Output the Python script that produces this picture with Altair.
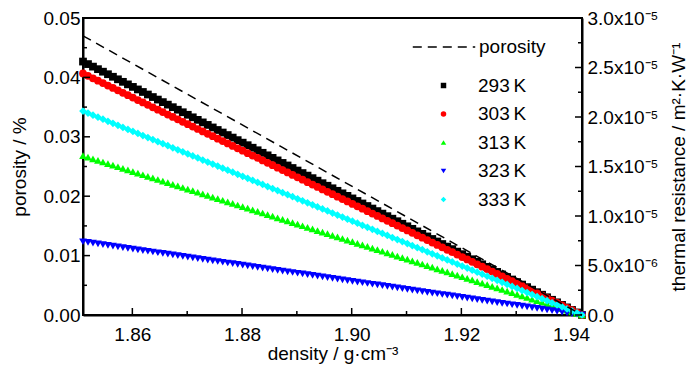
import altair as alt
import pandas as pd

# ---------------- data ----------------
density = [
    1.942, 1.94109, 1.94018, 1.93927, 1.93836, 1.93745, 1.93654, 1.93563, 1.93472, 1.93381,
    1.9329, 1.93199, 1.93108, 1.93017, 1.92926, 1.92835, 1.92744, 1.92653, 1.92562, 1.92471,
    1.9238, 1.92289, 1.92198, 1.92107, 1.92016, 1.91925, 1.91834, 1.91743, 1.91652, 1.91561,
    1.9147, 1.91379, 1.91288, 1.91197, 1.91106, 1.91015, 1.90924, 1.90833, 1.90742, 1.90651,
    1.9056, 1.90469, 1.90378, 1.90287, 1.90196, 1.90105, 1.90014, 1.89923, 1.89832, 1.89741,
    1.8965, 1.89559, 1.89468, 1.89377, 1.89286, 1.89195, 1.89104, 1.89013, 1.88922, 1.88831,
    1.8874, 1.88649, 1.88558, 1.88467, 1.88376, 1.88285, 1.88194, 1.88103, 1.88012, 1.87921,
    1.8783, 1.87739, 1.87648, 1.87557, 1.87466, 1.87375, 1.87284, 1.87193, 1.87102, 1.87011,
    1.8692, 1.86829, 1.86738, 1.86647, 1.86556, 1.86465, 1.86374, 1.86283, 1.86192, 1.86101,
    1.8601, 1.85919, 1.85828, 1.85737, 1.85646, 1.85555, 1.85464, 1.85373, 1.85282, 1.85191,
    1.851,
]

# thermal resistance, in units of 1e-5 m^2·K·W^-1
r293 = [
    0, 0.0256, 0.0512, 0.0768, 0.1024, 0.128, 0.1536, 0.1792, 0.2048, 0.2304,
    0.256, 0.2816, 0.3072, 0.3328, 0.3584, 0.384, 0.4096, 0.4352, 0.4608, 0.4864,
    0.512, 0.5376, 0.5632, 0.5888, 0.6144, 0.64, 0.6656, 0.6912, 0.7168, 0.7424,
    0.768, 0.7936, 0.8192, 0.8448, 0.8704, 0.896, 0.9216, 0.9472, 0.9728, 0.9984,
    1.024, 1.0496, 1.0752, 1.1008, 1.1264, 1.152, 1.1776, 1.2032, 1.2288, 1.2544,
    1.28, 1.3056, 1.3312, 1.3568, 1.3824, 1.408, 1.4336, 1.4592, 1.4848, 1.5104,
    1.536, 1.5616, 1.5872, 1.6128, 1.6384, 1.664, 1.6896, 1.7152, 1.7408, 1.7664,
    1.792, 1.8176, 1.8432, 1.8688, 1.8944, 1.92, 1.9456, 1.9712, 1.9968, 2.0224,
    2.048, 2.0736, 2.0992, 2.1248, 2.1504, 2.176, 2.2016, 2.2272, 2.2528, 2.2784,
    2.304, 2.3296, 2.3552, 2.3808, 2.4064, 2.432, 2.4576, 2.4832, 2.5088, 2.5344,
    2.56,
]
r303 = [
    0, 0.0244, 0.0488, 0.0732, 0.0976, 0.122, 0.1464, 0.1708, 0.1952, 0.2196,
    0.244, 0.2684, 0.2928, 0.3172, 0.3416, 0.366, 0.3904, 0.4148, 0.4392, 0.4636,
    0.488, 0.5124, 0.5368, 0.5612, 0.5856, 0.61, 0.6344, 0.6588, 0.6832, 0.7076,
    0.732, 0.7564, 0.7808, 0.8052, 0.8296, 0.854, 0.8784, 0.9028, 0.9272, 0.9516,
    0.976, 1.0004, 1.0248, 1.0492, 1.0736, 1.098, 1.1224, 1.1468, 1.1712, 1.1956,
    1.22, 1.2444, 1.2688, 1.2932, 1.3176, 1.342, 1.3664, 1.3908, 1.4152, 1.4396,
    1.464, 1.4884, 1.5128, 1.5372, 1.5616, 1.586, 1.6104, 1.6348, 1.6592, 1.6836,
    1.708, 1.7324, 1.7568, 1.7812, 1.8056, 1.83, 1.8544, 1.8788, 1.9032, 1.9276,
    1.952, 1.9764, 2.0008, 2.0252, 2.0496, 2.074, 2.0984, 2.1228, 2.1472, 2.1716,
    2.196, 2.2204, 2.2448, 2.2692, 2.2936, 2.318, 2.3424, 2.3668, 2.3912, 2.4156,
    2.44,
]
r313 = [
    0, 0.0161, 0.0322, 0.0483, 0.0644, 0.0805, 0.0966, 0.1127, 0.1288, 0.1449,
    0.161, 0.1771, 0.1932, 0.2093, 0.2254, 0.2415, 0.2576, 0.2737, 0.2898, 0.3059,
    0.322, 0.3381, 0.3542, 0.3703, 0.3864, 0.4025, 0.4186, 0.4347, 0.4508, 0.4669,
    0.483, 0.4991, 0.5152, 0.5313, 0.5474, 0.5635, 0.5796, 0.5957, 0.6118, 0.6279,
    0.644, 0.6601, 0.6762, 0.6923, 0.7084, 0.7245, 0.7406, 0.7567, 0.7728, 0.7889,
    0.805, 0.8211, 0.8372, 0.8533, 0.8694, 0.8855, 0.9016, 0.9177, 0.9338, 0.9499,
    0.966, 0.9821, 0.9982, 1.0143, 1.0304, 1.0465, 1.0626, 1.0787, 1.0948, 1.1109,
    1.127, 1.1431, 1.1592, 1.1753, 1.1914, 1.2075, 1.2236, 1.2397, 1.2558, 1.2719,
    1.288, 1.3041, 1.3202, 1.3363, 1.3524, 1.3685, 1.3846, 1.4007, 1.4168, 1.4329,
    1.449, 1.4651, 1.4812, 1.4973, 1.5134, 1.5295, 1.5456, 1.5617, 1.5778, 1.5939,
    1.61,
]
r323 = [
    0, 0.0074, 0.0148, 0.0222, 0.0296, 0.037, 0.0444, 0.0518, 0.0592, 0.0666,
    0.074, 0.0814, 0.0888, 0.0962, 0.1036, 0.111, 0.1184, 0.1258, 0.1332, 0.1406,
    0.148, 0.1554, 0.1628, 0.1702, 0.1776, 0.185, 0.1924, 0.1998, 0.2072, 0.2146,
    0.222, 0.2294, 0.2368, 0.2442, 0.2516, 0.259, 0.2664, 0.2738, 0.2812, 0.2886,
    0.296, 0.3034, 0.3108, 0.3182, 0.3256, 0.333, 0.3404, 0.3478, 0.3552, 0.3626,
    0.37, 0.3774, 0.3848, 0.3922, 0.3996, 0.407, 0.4144, 0.4218, 0.4292, 0.4366,
    0.444, 0.4514, 0.4588, 0.4662, 0.4736, 0.481, 0.4884, 0.4958, 0.5032, 0.5106,
    0.518, 0.5254, 0.5328, 0.5402, 0.5476, 0.555, 0.5624, 0.5698, 0.5772, 0.5846,
    0.592, 0.5994, 0.6068, 0.6142, 0.6216, 0.629, 0.6364, 0.6438, 0.6512, 0.6586,
    0.666, 0.6734, 0.6808, 0.6882, 0.6956, 0.703, 0.7104, 0.7178, 0.7252, 0.7326,
    0.74,
]
r333 = [
    0, 0.0206, 0.0412, 0.0618, 0.0824, 0.103, 0.1236, 0.1442, 0.1648, 0.1854,
    0.206, 0.2266, 0.2472, 0.2678, 0.2884, 0.309, 0.3296, 0.3502, 0.3708, 0.3914,
    0.412, 0.4326, 0.4532, 0.4738, 0.4944, 0.515, 0.5356, 0.5562, 0.5768, 0.5974,
    0.618, 0.6386, 0.6592, 0.6798, 0.7004, 0.721, 0.7416, 0.7622, 0.7828, 0.8034,
    0.824, 0.8446, 0.8652, 0.8858, 0.9064, 0.927, 0.9476, 0.9682, 0.9888, 1.0094,
    1.03, 1.0506, 1.0712, 1.0918, 1.1124, 1.133, 1.1536, 1.1742, 1.1948, 1.2154,
    1.236, 1.2566, 1.2772, 1.2978, 1.3184, 1.339, 1.3596, 1.3802, 1.4008, 1.4214,
    1.442, 1.4626, 1.4832, 1.5038, 1.5244, 1.545, 1.5656, 1.5862, 1.6068, 1.6274,
    1.648, 1.6686, 1.6892, 1.7098, 1.7304, 1.751, 1.7716, 1.7922, 1.8128, 1.8334,
    1.854, 1.8746, 1.8952, 1.9158, 1.9364, 1.957, 1.9776, 1.9982, 2.0188, 2.0394,
    2.06,
]

series_names = ["293\u2009K", "303\u2009K", "313\u2009K", "323\u2009K", "333\u2009K"]
series_colors = ["#000000", "#ff0000", "#00ff00", "#0000ff", "#00ffff"]
series_shapes = ["square", "circle", "triangle-up", "triangle-down", "diamond"]

porosity_density = [1.851, 1.942]
porosity_values = [0.047, 0.0]

x_major = [1.86, 1.88, 1.90, 1.92, 1.94]
x_minor = [1.87, 1.89, 1.91, 1.93]
yl_major = [0.0, 0.01, 0.02, 0.03, 0.04, 0.05]
yl_minor = [0.005, 0.015, 0.025, 0.035, 0.045]
yr_major = [0.0, 5e-6, 1e-5, 1.5e-5, 2e-5, 2.5e-5, 3e-5]
yr_minor = [2.5e-6, 7.5e-6, 1.25e-5, 1.75e-5, 2.25e-5, 2.75e-5]

# ---------------- tables ----------------
series_vals = [r293, r303, r313, r323, r333]
rows = []
for name, vals in zip(series_names, series_vals):
    assert len(vals) == len(density)
    for d, v in zip(density, vals):
        rows.append({"density": d, "R": v * 1e-5, "series": name})
pts_df = pd.DataFrame(rows)
por_df = pd.DataFrame({"density": porosity_density, "porosity": porosity_values,
                       "series": ["porosity"] * 2})

W, H = 499, 297
FONT = "Liberation Sans"
FS = 19
MAJ, MIN = 7, 4

xs = alt.Scale(domain=[1.851, 1.942], nice=False, zero=False)
yls = alt.Scale(domain=[0, 0.05], nice=False)
yrs = alt.Scale(domain=[0, 3e-5], nice=False)

x_axis = alt.Axis(values=x_major, format=".2f", title="density / g·cm⁻³",
                  ticks=False, labelPadding=10, titlePadding=0)
yl_axis = alt.Axis(orient="left", values=yl_major, format=".2f",
                   title="porosity / %", ticks=False, labelPadding=3,
                   titlePadding=14)
lab_expr = ("datum.value == 0 ? '0.0' : (datum.value < 9e-6 ? "
            "format(datum.value * 1e6, '.1f') + 'x10⁻⁶' : "
            "format(datum.value * 1e5, '.1f') + 'x10⁻⁵')")
yr_axis = alt.Axis(orient="right", values=yr_major, labelExpr=lab_expr,
                   title="thermal resistance / m²·K·W⁻¹", ticks=False,
                   labelPadding=5, titlePadding=12, titleAngle=270,
                   titleBaseline="top")

# ---------------- left-axis layer ----------------
line = alt.Chart(por_df).mark_line(color="black", strokeWidth=1.5).encode(
    x=alt.X("density:Q", scale=xs, axis=x_axis),
    y=alt.Y("porosity:Q", scale=yls, axis=yl_axis),
    strokeDash=alt.StrokeDash(
        "series:N",
        scale=alt.Scale(domain=["porosity"], range=[[9, 6]]),
        legend=alt.Legend(orient="none", legendX=329, legendY=-3, title=None,
                          labelFont=FONT, labelFontSize=FS, labelColor="black",
                          symbolSize=3900, symbolStrokeWidth=1.5,
                          symbolStrokeColor="black", labelOffset=3, padding=0),
    ),
)


def xrules(vals, length):
    df = pd.DataFrame({"density": vals})
    return alt.Chart(df).mark_rule(color="black", strokeWidth=1.5).encode(
        x=alt.X("density:Q", scale=xs, axis=x_axis),
        y=alt.value(H), y2=alt.value(H - length))


def yrules(vals, field, scale, axis, length, side):
    df = pd.DataFrame({field: vals})
    if side == "left":
        xa, xb = alt.value(0), alt.value(length)
    else:
        xa, xb = alt.value(W), alt.value(W - length)
    return alt.Chart(df).mark_rule(color="black", strokeWidth=1.5).encode(
        y=alt.Y(f"{field}:Q", scale=scale, axis=axis), x=xa, x2=xb)


left = alt.layer(
    line,
    xrules(x_major, MAJ),
    xrules(x_minor, MIN),
    yrules(yl_major, "porosity", yls, yl_axis, MAJ, "left"),
    yrules(yl_minor, "porosity", yls, yl_axis, MIN, "left"),
)

# ---------------- right-axis layer ----------------
leg = alt.Legend(orient="none", legendX=351, legendY=58, title=None,
                 labelFont=FONT, labelFontSize=FS, labelColor="black",
                 symbolSize=30, symbolStrokeWidth=0, rowPadding=8.5,
                 labelOffset=25, padding=0)

points = alt.Chart(pts_df).mark_point(filled=True, size=60, opacity=1).encode(
    x=alt.X("density:Q", scale=xs, axis=x_axis),
    y=alt.Y("R:Q", scale=yrs, axis=yr_axis),
    color=alt.Color("series:N", scale=alt.Scale(domain=series_names, range=series_colors),
                    legend=leg),
    shape=alt.Shape("series:N", scale=alt.Scale(domain=series_names, range=series_shapes),
                    legend=leg),
)

right = alt.layer(
    points,
    yrules(yr_major, "R", yrs, yr_axis, MAJ, "right"),
    yrules(yr_minor, "R", yrs, yr_axis, MIN, "right"),
)

chart = (
    alt.layer(right, left)
    .resolve_scale(y="independent")
    .properties(
        width=W, height=H,
        padding={"left": 75, "top": 10, "right": 110, "bottom": 51},
        autosize=alt.AutoSizeParams(type="none"),
    )
    .configure_axis(
        labelFont=FONT, labelFontSize=FS, labelColor="black",
        titleFont=FONT, titleFontSize=FS, titleFontWeight="normal", titleColor="black",
        domainColor="black", domainWidth=2, grid=False,
    )
    .configure_view(stroke="black", strokeWidth=2)
)

chart.save("out.html", embed_options={"renderer": "svg", "actions": False})
